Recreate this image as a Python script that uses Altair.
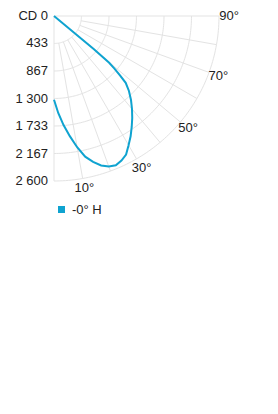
import math
import altair as alt
import pandas as pd

# ---- data ----
angles = [0, 2.5, 5, 7.5, 10, 12.5, 15, 17.5, 20, 22.5, 25, 27.5, 30, 32.5, 35,
          37.5, 40, 42.5, 45, 47, 48, 49, 49.7, 50.2, 50.5]
intensity = [1320, 1530, 1725, 1910, 2100, 2270, 2380, 2470, 2525, 2545, 2515, 2460,
             2350, 2247, 2135, 2025, 1912, 1796, 1670, 1545, 1395, 1262, 1140, 820, 0]
series_name = "-0° H"

ring_values = [0, 433.33, 866.67, 1300, 1733.33, 2166.67, 2600]
ring_labels = ["CD 0", "433", "867", "1 300", "1 733", "2 167", "2 600"]
spoke_angles = [0, 10, 20, 30, 40, 50, 60, 70, 80, 90]
angle_label_values = [10, 30, 50, 70, 90]
angle_label_texts = ["10°", "30°", "50°", "70°", "90°"]

RMAX = 2600
BLUE = "#0fa3d0"
GRID = "#e3e3e3"
TEXT = "#222222"
FONT = "Liberation Sans"
FS = 13


def polar(r, a):
    t = math.radians(a)
    return r * math.sin(t), r * math.cos(t)


# curve
curve_rows = []
for i, (a, v) in enumerate(zip(angles, intensity)):
    x, y = polar(v, a)
    curve_rows.append({"i": i, "x": x, "y": y, "s": series_name})
curve_df = pd.DataFrame(curve_rows)

# grid arcs
arc_rows = []
for r in ring_values[1:]:
    for a in range(0, 91):
        x, y = polar(r, a)
        arc_rows.append({"ring": r, "a": a, "x": x, "y": y})
arc_df = pd.DataFrame(arc_rows)

# spokes
spoke_rows = []
for a in spoke_angles:
    r0 = 0 if a in (0, 90) else ring_values[1]
    for k, r in enumerate([r0, RMAX]):
        x, y = polar(r, a)
        spoke_rows.append({"spoke": a, "k": k, "x": x, "y": y})
spoke_df = pd.DataFrame(spoke_rows)

# angle labels
lab_rows = []
for a, t in zip(angle_label_values, angle_label_texts):
    x, y = polar(RMAX * 175 / 165, a)
    lab_rows.append({"x": x, "y": y, "t": t})
lab_df = pd.DataFrame(lab_rows)

ring_df = pd.DataFrame({"y": ring_values, "t": ring_labels, "x": [0] * len(ring_values)})

xs = alt.Scale(domain=[0, RMAX], nice=False, zero=False)
ys = alt.Scale(domain=[0, RMAX], nice=False, zero=False, reverse=True)
X = alt.X("x:Q", scale=xs, axis=None)
Y = alt.Y("y:Q", scale=ys, axis=None)

arcs = alt.Chart(arc_df).mark_line(stroke=GRID, strokeWidth=1, clip=False).encode(
    x=X, y=Y, detail="ring:N", order="a:Q")
spokes = alt.Chart(spoke_df).mark_line(stroke=GRID, strokeWidth=1, clip=False).encode(
    x=X, y=Y, detail="spoke:N", order="k:Q")
curve = alt.Chart(curve_df).mark_line(strokeWidth=2, clip=False).encode(
    x=X, y=Y, order="i:Q",
    color=alt.Color("s:N", scale=alt.Scale(domain=[series_name], range=[BLUE]),
                    legend=alt.Legend(title=None, orient="none", legendX=1, legendY=187,
                                      symbolType="square", symbolSize=49,
                                      symbolStrokeWidth=0, symbolFillColor=BLUE,
                                      labelFont=FONT, labelFontSize=FS, labelColor=TEXT,
                                      labelOffset=4, padding=0)))
ring_text = alt.Chart(ring_df).mark_text(align="right", baseline="middle", dx=-6,
                                         font=FONT, fontSize=FS, color=TEXT).encode(
    x=X, y=Y, text="t:N")
ang_text = alt.Chart(lab_df).mark_text(align="center", baseline="middle",
                                       font=FONT, fontSize=FS, color=TEXT).encode(
    x=X, y=Y, text="t:N")

chart = alt.layer(arcs, spokes, curve, ring_text, ang_text).properties(
    width=165, height=165,
    autosize=alt.AutoSizeParams(type="none"),
    padding={"left": 46, "top": 8, "right": 50, "bottom": 60},
).configure_view(stroke=None)

chart.save("out.html", embed_options={"renderer": "svg", "actions": False})
